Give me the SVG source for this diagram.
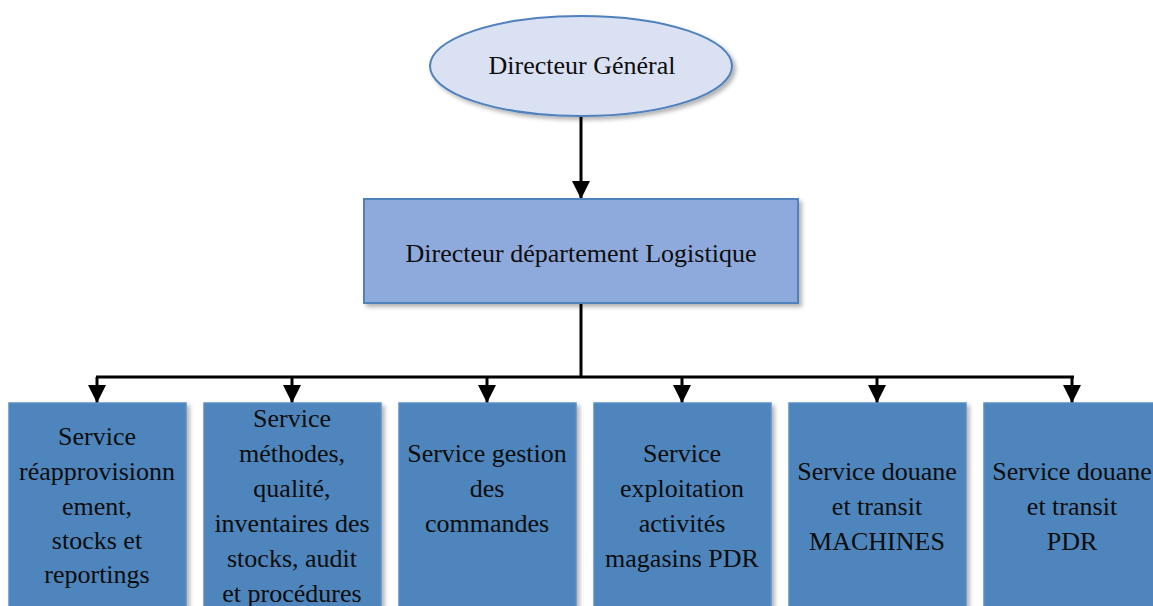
<svg xmlns="http://www.w3.org/2000/svg" width="1153" height="606" viewBox="0 0 1153 606">
  <style>
    text { font-family: "Liberation Serif", "Times New Roman", serif; font-size: 26px; fill: #0d0d0d; text-anchor: middle; }
    .top { fill: #dae1f3; stroke: #4f81bd; stroke-width: 2; }
    .dept { fill: #8eaadc; stroke: #4f81bd; stroke-width: 2; }
    .svc { fill: #4e85bc; stroke: #5b8fc6; stroke-width: 1.5; }
    .wire { fill: none; stroke: #000; stroke-width: 3; }
  </style>
  <defs>
    <filter id="shade" x="-10%" y="-10%" width="130%" height="130%">
      <feDropShadow dx="3" dy="3" stdDeviation="2" flood-color="#000" flood-opacity="0.3"/>
    </filter>
    <marker id="head" markerWidth="6" markerHeight="6" refX="6" refY="3" orient="auto" markerUnits="strokeWidth">
      <path d="M0,0 L6,3 L0,6 Z" fill="#000"/>
    </marker>
  </defs>

  <rect width="1153" height="606" fill="#fff"/>

  <!-- connectors: top arrow, trunk, bus and six drops -->
  <g id="connectors">
    <line class="wire" x1="581" y1="117" x2="581" y2="199" marker-end="url(#head)"/>
    <line class="wire" x1="581" y1="304" x2="581" y2="377"/>
    <line class="wire" x1="96" y1="377" x2="1074" y2="377"/>
    <line class="wire" x1="97" y1="377" x2="97" y2="403" marker-end="url(#head)"/>
    <line class="wire" x1="292" y1="377" x2="292" y2="403" marker-end="url(#head)"/>
    <line class="wire" x1="487" y1="377" x2="487" y2="403" marker-end="url(#head)"/>
    <line class="wire" x1="682" y1="377" x2="682" y2="403" marker-end="url(#head)"/>
    <line class="wire" x1="877" y1="377" x2="877" y2="403" marker-end="url(#head)"/>
    <line class="wire" x1="1072" y1="377" x2="1072" y2="403" marker-end="url(#head)"/>
  </g>

  <g id="directeur-general">
    <ellipse class="top" cx="581" cy="66" rx="151" ry="50" filter="url(#shade)"/>
    <text x="582" y="74">Directeur Général</text>
  </g>

  <g id="directeur-logistique">
    <rect class="dept" x="364" y="199" width="434" height="104" filter="url(#shade)"/>
    <text x="581" y="262">Directeur département Logistique</text>
  </g>

  <g id="service-reappro">
    <rect class="svc" x="9" y="403" width="177" height="210" filter="url(#shade)"/>
    <text x="97" y="445">Service</text>
    <text x="97" y="480">réapprovisionn</text>
    <text x="97" y="515">ement,</text>
    <text x="97" y="549">stocks et</text>
    <text x="97" y="583">reportings</text>
  </g>

  <g id="service-methodes">
    <rect class="svc" x="204" y="403" width="177" height="210" filter="url(#shade)"/>
    <text x="292" y="427">Service</text>
    <text x="292" y="462">méthodes,</text>
    <text x="292" y="497">qualité,</text>
    <text x="292" y="532">inventaires des</text>
    <text x="292" y="567">stocks, audit</text>
    <text x="292" y="602">et procédures</text>
  </g>

  <g id="service-commandes">
    <rect class="svc" x="399" y="403" width="177" height="210" filter="url(#shade)"/>
    <text x="487" y="462">Service gestion</text>
    <text x="487" y="497">des</text>
    <text x="487" y="532">commandes</text>
  </g>

  <g id="service-exploitation">
    <rect class="svc" x="594" y="403" width="177" height="210" filter="url(#shade)"/>
    <text x="682" y="462">Service</text>
    <text x="682" y="497">exploitation</text>
    <text x="682" y="532">activités</text>
    <text x="682" y="567">magasins PDR</text>
  </g>

  <g id="service-douane-machines">
    <rect class="svc" x="789" y="403" width="177" height="210" filter="url(#shade)"/>
    <text x="877" y="480">Service douane</text>
    <text x="877" y="515">et transit</text>
    <text x="877" y="550">MACHINES</text>
  </g>

  <g id="service-douane-pdr">
    <rect class="svc" x="984" y="403" width="177" height="210" filter="url(#shade)"/>
    <text x="1072" y="480">Service douane</text>
    <text x="1072" y="515">et transit</text>
    <text x="1072" y="550">PDR</text>
  </g>
</svg>
